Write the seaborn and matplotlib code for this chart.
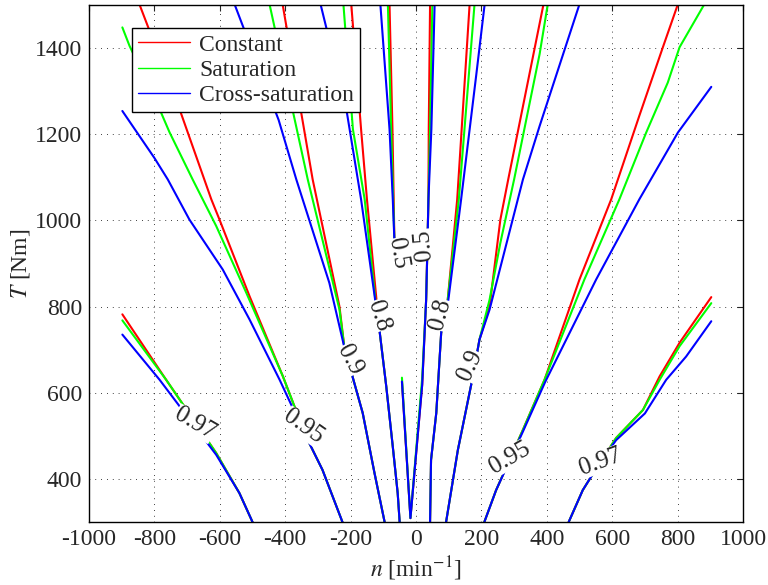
import numpy as np
import pandas as pd
import matplotlib
matplotlib.use("Agg")
import matplotlib.pyplot as plt
from matplotlib.lines import Line2D
import seaborn as sns

# contour lines, (n [1/min], T [Nm]) pairs
# Constant model (red)
const_097_left = [(-898, 782), (-764, 630), (-611, 460), (-540, 367), (-500, 300)]
const_095_left = [(-846, 1502), (-723, 1258), (-626, 1049), (-601, 1002), (-509, 824),
                  (-407, 638), (-336, 498), (-286, 421), (-225, 300)]
const_090_left = [(-408, 1502), (-316, 1095), (-234, 800), (-219, 705), (-163, 553),
                  (-127, 414), (-96, 300)]
const_080_left = [(-198, 1502), (-168, 1212), (-150, 1049), (-118, 793), (-112, 747),
                  (-91, 615), (-71, 475), (-56, 367), (-50, 300)]
const_050_left = [(-81, 1502), (-72, 1212), (-66, 952)]
const_050_right = [(43, 1502), (39, 1212), (38, 1049), (34, 909), (31, 816), (19, 619),
                   (-17, 309), (-43, 626)]
const_080_right = [(164, 1502), (126, 1049), (97, 816), (77, 739), (62, 553), (46, 444),
                   (43, 300)]
const_090_right = [(390, 1502), (282, 1095), (258, 1002), (225, 800), (194, 723),
                   (174, 638), (128, 467), (92, 300)]
const_095_right = [(801, 1502), (755, 1402), (683, 1243), (597, 1049), (500, 863),
                   (393, 630), (327, 514), (245, 374), (209, 300)]
const_097_right = [(903, 822), (806, 716), (745, 638), (694, 560), (612, 495),
                   (561, 436), (510, 374), (467, 300)]

# Saturation model (green)
sat_097_left = [(-898, 768), (-764, 630), (-611, 460), (-540, 367), (-500, 300)]
sat_095_left = [(-898, 1448), (-876, 1405), (-784, 1258), (-754, 1205), (-683, 1095),
                (-611, 987), (-519, 832), (-407, 638), (-336, 498), (-286, 421), (-225, 300)]
sat_090_left = [(-448, 1502), (-331, 1095), (-234, 793), (-219, 705), (-163, 553),
                (-127, 414), (-96, 300)]
sat_080_left = [(-222, 1502), (-193, 1212), (-157, 1049), (-122, 800), (-112, 747),
                (-91, 615), (-71, 475), (-56, 367), (-50, 300)]
sat_050_left = [(-86, 1502), (-76, 1212), (-66, 952)]
sat_050_right = [(50, 1502), (43, 1212), (38, 1049), (34, 909), (31, 816), (19, 635),
                 (-17, 309), (-43, 635)]
sat_080_right = [(179, 1502), (131, 1049), (97, 816), (77, 739), (62, 553), (46, 444),
                 (43, 300)]
sat_090_right = [(403, 1502), (378, 1386), (300, 1095), (258, 948), (225, 816), (194, 723),
                 (174, 638), (128, 467), (92, 300)]
sat_095_right = [(882, 1502), (806, 1402), (770, 1320), (704, 1204), (622, 1049),
                 (515, 863), (393, 630), (327, 514), (245, 374), (209, 300)]
sat_097_right = [(903, 808), (806, 708), (745, 630), (694, 560), (612, 495),
                 (561, 436), (510, 374), (467, 300)]

# Cross-saturation model (blue)
cross_097_left = [(-898, 735), (-784, 630), (-611, 456), (-540, 367), (-500, 300)]
cross_095_left = [(-898, 1254), (-800, 1145), (-759, 1095), (-693, 1002), (-591, 886),
                  (-509, 770), (-417, 630), (-336, 498), (-286, 421), (-225, 300)]
cross_090_left = [(-555, 1502), (-420, 1233), (-366, 1095), (-265, 855), (-219, 705),
                  (-163, 553), (-127, 414), (-96, 300)]
cross_080_left = [(-292, 1502), (-213, 1258), (-168, 1049), (-122, 800), (-112, 747),
                  (-91, 615), (-71, 475), (-56, 367), (-50, 300)]
cross_050_left = [(-109, 1502), (-81, 1212), (-71, 1049), (-66, 952)]
cross_050_right = [(57, 1502), (47, 1212), (38, 1049), (34, 909), (31, 816), (19, 619),
                   (-17, 309), (-43, 626)]
cross_080_right = [(210, 1502), (184, 1336), (138, 1049), (99, 816), (77, 739), (62, 553),
                   (46, 444), (43, 300)]
cross_090_right = [(500, 1502), (378, 1219), (327, 1095), (255, 882), (225, 793),
                   (194, 723), (174, 638), (128, 467), (92, 300)]
cross_095_right = [(903, 1310), (801, 1204), (683, 1049), (551, 863), (395, 625),
                   (327, 510), (245, 374), (209, 300)]
cross_097_right = [(903, 766), (826, 684), (765, 630), (700, 552), (612, 490),
                   (561, 436), (510, 374), (467, 300)]

# contour labels: text, n, T, rotation
label_text = ["0.97", "0.95", "0.9", "0.8", "0.5", "0.5", "0.8", "0.9", "0.95", "0.97"]
label_n = [-677, -344, -203, -115, -57, 23, 75, 167, 286, 564]
label_T = [528, 521, 677, 779, 923, 944, 781, 663, 449, 440]
label_rot = [-30, -35, -62, -72, -80, 95, 75, 65, 30, 20]

models = {
    "Constant": ("#ff0000", [const_097_left, const_095_left, const_090_left, const_080_left,
                             const_050_left, const_050_right, const_080_right,
                             const_090_right, const_095_right, const_097_right]),
    "Saturation": ("#00ff00", [sat_097_left, sat_095_left, sat_090_left, sat_080_left,
                               sat_050_left, sat_050_right, sat_080_right, sat_090_right,
                               sat_095_right, sat_097_right]),
    "Cross-saturation": ("#0000ff", [cross_097_left, cross_095_left, cross_090_left,
                                     cross_080_left, cross_050_left, cross_050_right,
                                     cross_080_right, cross_090_right, cross_095_right,
                                     cross_097_right]),
}

sns.set_style("white")
plt.rcParams['font.family'] = ['Liberation Serif', 'DejaVu Serif']
plt.rcParams['mathtext.fontset'] = 'stix'
plt.rcParams['axes.unicode_minus'] = False
plt.rcParams['font.size'] = 17

fig = plt.figure(figsize=(7.68, 5.85), dpi=100)
ax = fig.add_axes([89/768, 63/585, 654/768, 517/585])

for name, (col, curves) in models.items():
    for k, pts in enumerate(curves):
        df = pd.DataFrame(pts, columns=["n", "T"])
        sns.lineplot(data=df, x="n", y="T", sort=False, estimator=None, color=col,
                     lw=1.5, ax=ax, legend=False)

for txt, xn, yt, rot in zip(label_text, label_n, label_T, label_rot):
    ax.text(xn, yt, txt, rotation=rot, ha='center', va='center', fontsize=18,
            rotation_mode='anchor', zorder=5,
            bbox=dict(boxstyle='square,pad=0.0', fc='white', ec='none'))

ax.set_xlim(-1000, 1000)
ax.set_ylim(300, 1500)
ax.set_xticks(np.arange(-1000, 1001, 200))
ax.set_yticks(np.arange(400, 1401, 200))
ax.grid(True, color='black', linestyle=(0, (1, 6)), lw=0.6)
ax.tick_params(direction='in', top=True, right=True, length=4, width=0.8,
               labelsize=17, pad=5)
for sp in ax.spines.values():
    sp.set_color('black')
    sp.set_linewidth(1.0)
ax.set_xlabel(r"$n$ [min$^{-1}$]", fontsize=17, labelpad=3)
ax.set_ylabel(r"$T$ [Nm]", fontsize=17, labelpad=2)

handles = [Line2D([0], [0], color=c, lw=1.0) for c, _ in models.values()]
leg = ax.legend(handles, list(models.keys()), loc='upper left',
                bbox_to_anchor=(0.066, 0.955), borderaxespad=0, fancybox=False,
                framealpha=1, edgecolor='black', fontsize=17, handlelength=2.2,
                labelspacing=0.15, borderpad=0.25, handletextpad=0.4)
leg.get_frame().set_linewidth(1.0)
leg.set_zorder(10)

fig.savefig("out.png", dpi=100)
